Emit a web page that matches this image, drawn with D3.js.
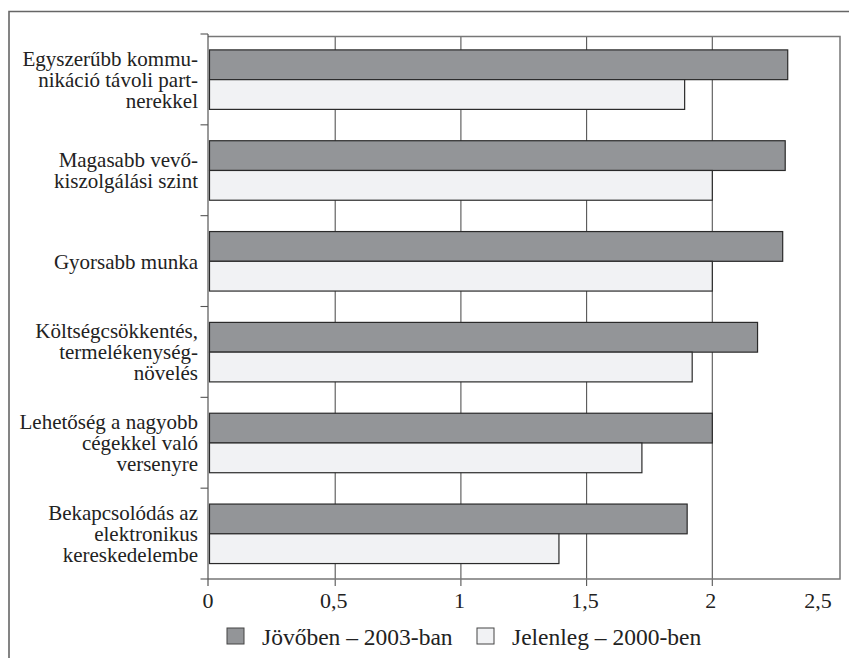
<!DOCTYPE html>
<html><head><meta charset="utf-8">
<script src="https://cdn.jsdelivr.net/npm/d3@7"></script>
</head><body style="margin:0"><svg id="c" width="849" height="658" style="display:block"></svg>
<script>
const categories = [
  ["Egyszerűbb kommu-","nikáció távoli part-","nerekkel"],
  ["Magasabb vevő-","kiszolgálási szint"],
  ["Gyorsabb munka"],
  ["Költségcsökkentés,","termelékenység-","növelés"],
  ["Lehetőség a nagyobb","cégekkel való","versenyre"],
  ["Bekapcsolódás az","elektronikus","kereskedelembe"]
];
const seriesNames = ["Jövőben – 2003-ban","Jelenleg – 2000-ben"];
const future2003 = [2.30, 2.29, 2.28, 2.18, 2.00, 1.90];
const current2000 = [1.89, 2.00, 2.00, 1.92, 1.72, 1.39];
const tickValues = [0, 0.5, 1, 1.5, 2, 2.5];
const tickLabels = ["0","0,5","1","1,5","2","2,5"];
const colors = ["#939598", "#f1f2f4"];

const FONT = "'Liberation Serif'";
const svg = d3.select("#c");
const pLeft = 209.5, pRight = 838, pTop = 34, pBottom = 579;
const x = d3.scaleLinear().domain([0, 2.5]).range([pLeft, pRight]);
const y = d3.scaleBand().domain(d3.range(categories.length)).range([pTop, pBottom]).padding(0);
const bw = y.bandwidth();
const ys = d3.scaleBand().domain([0,1]).range([bw*0.175, bw*0.83]).padding(0);

// outer frame
svg.append("path").attr("d","M9,658 L9,11.5 L849,11.5").attr("fill","none").attr("stroke","#666").attr("stroke-width",1.6);

// gridlines
svg.append("g").selectAll("line").data([0.5,1,1.5,2]).join("line")
  .attr("x1",d=>x(d)).attr("x2",d=>x(d)).attr("y1",36.5).attr("y2",pBottom+7)
  .attr("stroke","#555").attr("stroke-width",1.1);

// plot border top/right/bottom
svg.append("path").attr("d",`M${pLeft-1.5},36.5 L840,36.5 L840,${pBottom} L${pLeft-1.5},${pBottom}`)
  .attr("fill","none").attr("stroke","#777").attr("stroke-width",1.5);

// bars
const data = categories.map((c,i)=>[future2003[i], current2000[i]]);
const g = svg.append("g");
data.forEach((vals,i)=>{
  vals.forEach((v,s)=>{
    g.append("rect").attr("x",x(0)).attr("y",y(i)+ys(s))
      .attr("width",x(v)-x(0)).attr("height",ys.bandwidth())
      .attr("fill",colors[s]).attr("stroke","#2a2a2a").attr("stroke-width",1.2);
  });
});

// left axis line + ticks
svg.append("line").attr("x1",pLeft-1.5).attr("x2",pLeft-1.5).attr("y1",pTop).attr("y2",pBottom+7)
  .attr("stroke","#555").attr("stroke-width",1.2);
const bounds = d3.range(categories.length+1).map(i=> i<categories.length ? y(i) : pBottom);
svg.append("g").selectAll("line").data(bounds).join("line")
  .attr("x1",pLeft-9).attr("x2",pLeft-1.5).attr("y1",d=>d).attr("y2",d=>d)
  .attr("stroke","#555").attr("stroke-width",1.1);

// category labels
categories.forEach((lines,i)=>{
  const cy = y(i)+bw/2;
  const n = lines.length, lh = 21;
  lines.forEach((ln,k)=>{
    svg.append("text").attr("x",198).attr("y", cy + (k-(n-1)/2)*lh + 7.5)
      .attr("text-anchor","end").attr("font-size",21).style("font-family",FONT).attr("fill","#222").text(ln);
  });
});

// x tick labels
tickValues.forEach((d,i)=>{
  svg.append("text").attr("x", d===2.5 ? x(d)-20 : x(d)-1.5).attr("y",608)
    .attr("text-anchor","middle").attr("font-size",22).style("font-family",FONT).attr("fill","#222").text(tickLabels[i]);
});

// legend
const lx = [227, 477];
seriesNames.forEach((s,i)=>{
  svg.append("rect").attr("x",lx[i]).attr("y",628).attr("width",17).attr("height",16)
    .attr("fill",colors[i]).attr("stroke","#444").attr("stroke-width",1);
  svg.append("text").attr("x",lx[i]+35).attr("y",645).attr("font-size",23.5).style("font-family",FONT).attr("fill","#222").text(s);
});
</script></body></html>
